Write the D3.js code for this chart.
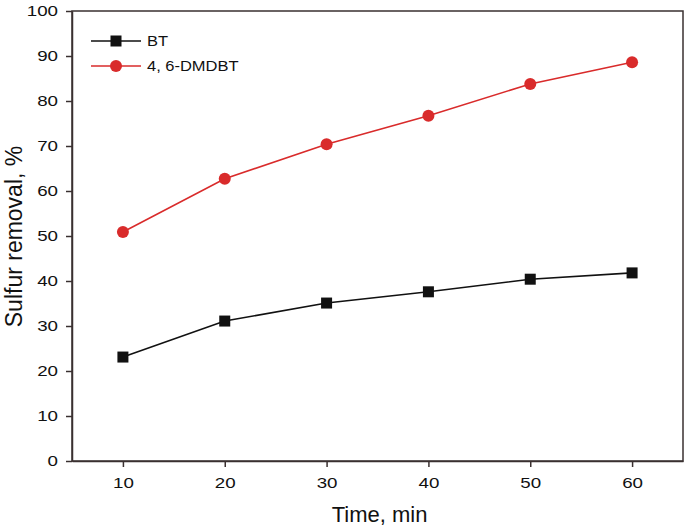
<!DOCTYPE html>
<html><head><meta charset="utf-8">
<script src="https://cdn.jsdelivr.net/npm/d3@7"></script>
<style>body{margin:0;background:#fff}</style>
</head><body>
<svg id="c" width="685" height="529"></svg>
<script>
const times = [10, 20, 30, 40, 50, 60];
const bt = [23.1, 31.1, 35.1, 37.6, 40.4, 41.8];
const dmdbt = [50.9, 62.7, 70.4, 76.7, 83.8, 88.6];
const xTicks = [10, 20, 30, 40, 50, 60];
const yTicks = [0, 10, 20, 30, 40, 50, 60, 70, 80, 90, 100];
const seriesNames = ["BT", "4, 6-DMDBT"];

const svg = d3.select("#c");
const L = 72, R = 683, T = 11, B = 461;
const axisColor = "#3a3030";
const x = d3.scaleLinear().domain([5, 65]).range([L, R]);
const y = d3.scaleLinear().domain([0, 100]).range([B, T]);

svg.append("rect").attr("x", L).attr("y", T).attr("width", R - L).attr("height", B - T)
  .attr("fill", "none").attr("stroke", axisColor).attr("stroke-width", 1.5);

const font = "Liberation Sans, Arial, sans-serif";
const xa = svg.append("g").attr("transform", `translate(0,${B})`)
  .call(d3.axisBottom(x).tickValues(xTicks).tickSize(6).tickPadding(10).tickSizeOuter(0));
const ya = svg.append("g").attr("transform", `translate(${L},0)`)
  .call(d3.axisLeft(y).tickValues(yTicks).tickSize(6).tickPadding(8).tickSizeOuter(0));
[xa, ya].forEach(a => {
  a.select(".domain").attr("stroke", axisColor).attr("stroke-width", 1.5);
  a.selectAll(".tick line").attr("stroke", axisColor).attr("stroke-width", 1.5);
  a.selectAll(".tick text").attr("fill", "#111").style("font-family", font).style("font-size", "15px")
    .attr("transform", function() {
      const tx = +d3.select(this).attr("x") || 0;
      return `translate(${tx},0) scale(1.25,1) translate(${-tx},0)`;
    });
});

const line = d3.line().x((d, i) => x(times[i])).y(d => y(d));
const colors = ["#111111", "#d92b2b"];
svg.append("path").datum(bt).attr("d", line).attr("fill", "none").attr("stroke", colors[0]).attr("stroke-width", 1.6);
svg.append("path").datum(dmdbt).attr("d", line).attr("fill", "none").attr("stroke", colors[1]).attr("stroke-width", 1.6);

svg.selectAll(".sq").data(bt).enter().append("rect")
  .attr("x", (d, i) => x(times[i]) - 5.5).attr("y", d => y(d) - 5.5)
  .attr("width", 11).attr("height", 11).attr("fill", colors[0]);
svg.selectAll(".ci").data(dmdbt).enter().append("circle")
  .attr("cx", (d, i) => x(times[i])).attr("cy", d => y(d)).attr("r", 6).attr("fill", colors[1]);

const lg = [41, 66];
seriesNames.forEach((n, i) => {
  svg.append("line").attr("x1", 91).attr("x2", 141).attr("y1", lg[i]).attr("y2", lg[i])
    .attr("stroke", colors[i]).attr("stroke-width", 1.5);
  if (i === 0) svg.append("rect").attr("x", 116 - 5.5).attr("y", lg[i] - 5.5).attr("width", 11).attr("height", 11).attr("fill", colors[0]);
  else svg.append("circle").attr("cx", 116).attr("cy", lg[i]).attr("r", 6).attr("fill", colors[1]);
  svg.append("text").attr("x", 147).attr("y", lg[i] + 5.5).text(n)
    .attr("transform", `translate(147,0) scale(1.1,1) translate(-147,0)`)
    .style("font-family", font).style("font-size", "15px").attr("fill", "#111");
});

svg.append("text").attr("x", 379.5).attr("y", 521.5).attr("text-anchor", "middle")
  .text("Time, min").style("font-family", font).style("font-size", "22px").attr("fill", "#111");
svg.append("text").attr("transform", `translate(22,236.5) rotate(-90)`).attr("text-anchor", "middle")
  .text("Sulfur removal, %").style("font-family", font).style("font-size", "23px").attr("fill", "#111");
</script>
</body></html>
